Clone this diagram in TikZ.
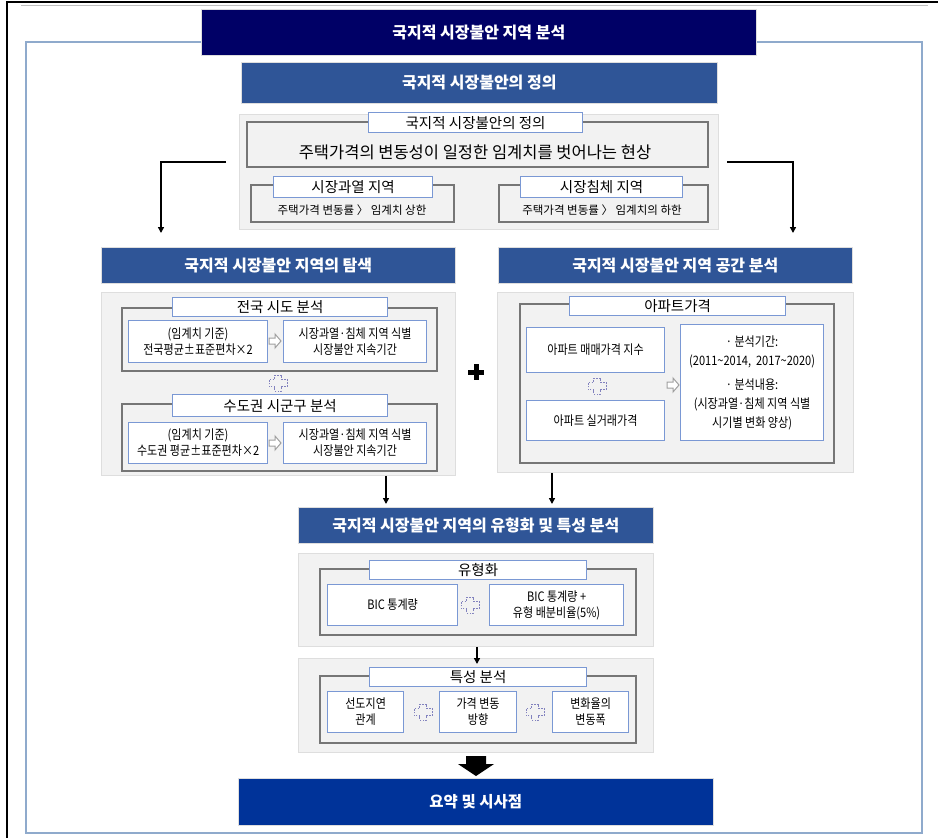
\documentclass[tikz,border=0pt]{standalone}
\usepackage{fontspec}
\setmainfont{Noto Sans CJK KR}
\newfontfamily\kr{Noto Sans CJK KR}
\newfontfamily\krn[FakeStretch=0.85]{Noto Sans CJK KR}
\usetikzlibrary{arrows.meta}

\definecolor{navy}{RGB}{0,0,102}
\definecolor{hdrblue}{RGB}{47,85,151}
\definecolor{sumblue}{RGB}{0,51,153}
\definecolor{framebl}{RGB}{143,170,204}
\definecolor{panelgray}{RGB}{242,242,242}
\definecolor{panelline}{RGB}{222,222,222}
\definecolor{framegray}{RGB}{118,118,118}
\definecolor{boxblue}{RGB}{122,152,212}
\definecolor{plusline}{RGB}{130,130,190}
\definecolor{harrowgray}{RGB}{160,160,160}

% place a box by its top-left and bottom-right corners (px units)
\newcommand\place[6]{\node[#1, anchor=north west, minimum width={#5-#3}, minimum height={#6-#4}] (#2) at (#3,#4)}
% hollow grey arrow pointing right, centred on (x,y)
\newcommand\harrow[2]{\draw[harrowline] ({#1-6},{#2-3}) -- ({#1},{#2-3}) -- ({#1},{#2-7}) -- ({#1+6},{#2}) -- ({#1},{#2+7}) -- ({#1},{#2+3}) -- ({#1-6},{#2+3}) -- cycle;}
% dashed plus outline centred on (x,y)
\newcommand\dplus[2]{\draw[plusdash] ({#1-3.5},{#2-8}) -- ({#1+3.5},{#2-8}) -- ({#1+3.5},{#2-3.5}) -- ({#1+9},{#2-3.5}) -- ({#1+9},{#2+3.5}) -- ({#1+3.5},{#2+3.5}) -- ({#1+3.5},{#2+8}) -- ({#1-3.5},{#2+8}) -- ({#1-3.5},{#2+3.5}) -- ({#1-9},{#2+3.5}) -- ({#1-9},{#2-3.5}) -- ({#1-3.5},{#2-3.5}) -- cycle;}

\tikzset{
  titlebox/.style={fill=navy, draw=panelline, line width=0.6pt, text=white, font=\kr\bfseries\fontsize{16}{18}\selectfont, inner sep=0pt},
  header/.style={fill=hdrblue, draw=panelline, line width=0.6pt, text=white, font=\kr\bfseries\fontsize{16}{18}\selectfont, inner sep=0pt},
  sumbox/.style={fill=sumblue, draw=panelline, line width=0.6pt, text=white, font=\kr\bfseries\fontsize{15.5}{18}\selectfont, inner sep=0pt},
  panel/.style={fill=panelgray, draw=panelline, line width=0.8pt, inner sep=0pt},
  frame/.style={draw=framegray, line width=2pt, inner sep=0pt},
  tag/.style={fill=white, draw=boxblue, line width=1.2pt, inner sep=0pt, font=\kr\fontsize{14.5}{16}\selectfont},
  cell/.style={fill=white, draw=boxblue, line width=1.2pt, inner sep=0pt, align=center, font=\krn\fontsize{13}{16}\selectfont},
  plain/.style={inner sep=0pt, align=center},
  arr/.style={draw=black, line width=1.5pt, -{Triangle[width=6pt,length=6pt]}},
  harrowline/.style={draw=harrowgray, line width=1pt, fill=white},
  plusdash/.style={draw=plusline, line width=0.9pt, dash pattern=on 1.6pt off 1.2pt},
}

\begin{document}
\begin{tikzpicture}[x=1pt, y=-1pt]
\useasboundingbox (0,0) rectangle (938,838);
\fill[white] (0,0) rectangle (938,838);

% page rules
\draw[black, line width=2pt] (7,838) -- (7,2) -- (938,2);
\draw[gray!50, line width=1pt] (21,5.5) -- (928,5.5);
\draw[framebl, line width=1.5pt] (26,42) rectangle (922,833);

% title
\place{titlebox}{title}{201}{9}{756}{55}{국지적 시장불안 지역 분석};

% ---- definition ----
\place{header}{hdrDef}{241}{62}{717}{103}{국지적 시장불안의 정의};
\place{panel}{pDef}{239}{114}{718}{229}{};
\place{frame}{fDef}{246}{121}{707}{166}{};
\place{tag}{tDef}{368}{112}{582}{132}{국지적 시장불안의 정의};
\node[plain, font=\kr\fontsize{16.5}{18}\selectfont] (defText) at (475,152) {주택가격의 변동성이 일정한 임계치를 벗어나는 현상};
\place{frame}{fHot}{250}{184}{453}{221}{};
\place{tag}{tHot}{273}{176}{432}{197}{시장과열 지역};
\node[plain, font=\kr\fontsize{11.5}{13}\selectfont] (hotText) at (352,210) {주택가격 변동률 〉 임계치 상한};
\place{frame}{fCold}{498}{184}{707}{221}{};
\place{tag}{tCold}{520}{176}{682}{197}{시장침체 지역};
\node[plain, font=\kr\fontsize{11.5}{13}\selectfont] (coldText) at (602,210) {주택가격 변동률 〉 임계치의 하한};

% ---- exploration (left) ----
\place{header}{hdrL}{101}{247}{455}{283}{국지적 시장불안 지역의 탐색};
\place{panel}{pL}{101}{292}{455}{475}{};
\place{frame}{fL1}{121}{307}{436}{370}{};
\place{tag}{tL1}{172}{297}{387}{316}{전국 시도 분석};
\place{cell}{cL1a}{128}{320}{267}{362}{(임계치 기준)\\전국평균±표준편차×2};
\place{cell}{cL1b}{283}{320}{426}{362}{시장과열·침체 지역 식별\\시장불안 지속기간};
\harrow{275}{341}
\dplus{278}{383}
\place{frame}{fL2}{121}{403}{436}{470}{};
\place{tag}{tL2}{172}{394}{387}{416}{수도권 시군구 분석};
\place{cell}{cL2a}{128}{422}{267}{463}{(임계치 기준)\\수도권 평균±표준편차×2};
\place{cell}{cL2b}{283}{422}{426}{463}{시장과열·침체 지역 식별\\시장불안 지속기간};
\harrow{275}{443}

% joining plus
\fill[black] (473.5,364) rectangle (478.5,380);
\fill[black] (468,369.5) rectangle (484,374.5);

% ---- spatial analysis (right) ----
\place{header}{hdrR}{498}{247}{852}{283}{국지적 시장불안 지역 공간 분석};
\place{panel}{pR}{497}{292}{853}{472}{};
\place{frame}{fR}{519}{303}{833}{462}{};
\place{tag}{tR}{569}{296}{785}{315}{아파트가격};
\place{cell}{cRa}{526}{327}{664}{372}{아파트 매매가격 지수};
\place{cell}{cRb}{526}{400}{664}{440}{아파트 실거래가격};
\dplus{597}{386}
\harrow{673}{385}
\place{cell, font=\krn\fontsize{13}{19}\selectfont}{cRc}{680}{324}{823}{440}{· 분석기간:\\(2011\textasciitilde 2014,\ \ 2017\textasciitilde 2020)\\[5pt]· 분석내용:\\(시장과열·침체 지역 식별\\시기별 변화 양상)};

% ---- typology & characteristics ----
\place{header}{hdrM}{298}{507}{653}{543}{국지적 시장불안 지역의 유형화 및 특성 분석};
\place{panel}{pT}{298}{553}{653}{646}{};
\place{frame}{fT}{319}{568}{635}{634}{};
\place{tag}{tT}{369}{560}{586}{579}{유형화};
\place{cell}{cTa}{327}{584}{457}{625}{BIC 통계량};
\place{cell}{cTb}{489}{584}{623}{625}{BIC 통계량 +\\유형 배분비율(5\%)};
\dplus{470}{605}

\place{panel}{pC}{298}{658}{653}{752}{};
\place{frame}{fC}{319}{675}{635}{742}{};
\place{tag}{tC}{369}{667}{586}{686}{특성 분석};
\place{cell}{cCa}{327}{691}{403}{732}{선도지연\\관계};
\place{cell}{cCb}{439}{691}{516}{732}{가격 변동\\방향};
\place{cell}{cCc}{552}{691}{628}{732}{변화율의\\변동폭};
\dplus{423}{712}
\dplus{535}{712}

% ---- summary ----
\place{sumbox}{sum}{238}{778}{713}{825}{요약 및 시사점};

% ---- connectors ----
\coordinate (aLs) at (226,162);
\coordinate (aLe) at (161,233);
\coordinate (aRs) at (727,162);
\coordinate (aRe) at (793,233);
\draw[arr] (aLs) -| (aLe);
\draw[arr] (aRs) -| (aRe);
\draw[arr] (pL.south -| 386,0) -- ([yshift=3pt]hdrM.north -| 386,0);
\draw[arr] (pR.south -| 552,0) -- ([yshift=3pt]hdrM.north -| 552,0);
\draw[arr] (pT.south -| 477,0) -- ([yshift=3pt]tC.north -| 477,0);

% block arrow into the summary
\fill[black] (466,756) -- (486,756) -- (486,764) -- (494,764) -- (476,776) -- (458,764) -- (466,764) -- cycle;
\end{tikzpicture}
\end{document}
